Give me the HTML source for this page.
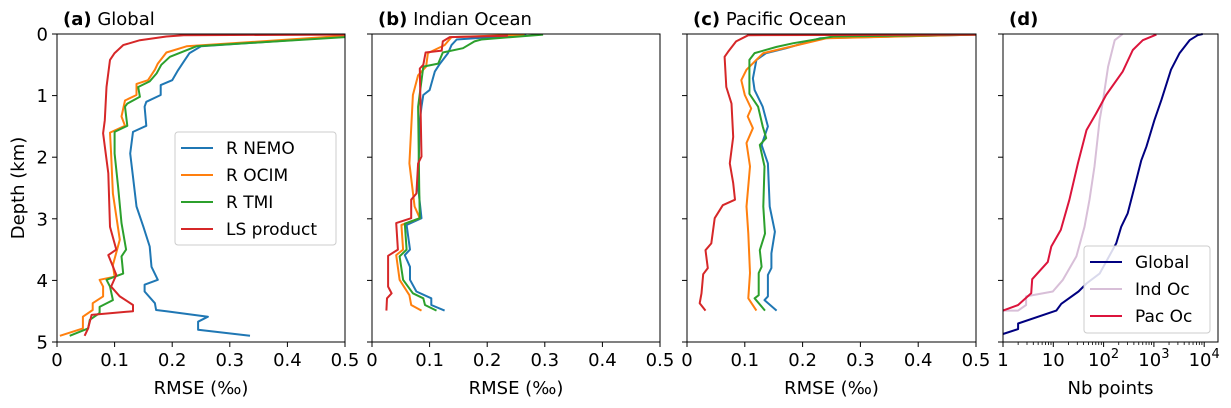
<!DOCTYPE html>
<html><head><meta charset="utf-8"><style>
body{margin:0;background:#fff;}
svg{display:block;font-family:"DejaVu Sans","Liberation Sans",sans-serif;}
</style></head><body>
<svg id="fig" width="1231" height="408" viewBox="0 0 1231 408" xmlns="http://www.w3.org/2000/svg"></svg>
<script>
// ---- Data (depth km, value) ----
const aNemoD=[0.04,0.2,0.31,0.45,0.59,0.75,0.83,0.99,1.1,1.18,1.49,1.59,1.94,2.32,2.8,3.13,3.45,3.78,3.99,4.07,4.18,4.37,4.48,4.5,4.59,4.67,4.8,4.9];
const aNemoV=[0.5,0.25,0.23,0.22,0.21,0.2,0.18,0.18,0.155,0.152,0.155,0.132,0.127,0.132,0.138,0.15,0.161,0.164,0.175,0.152,0.152,0.17,0.172,0.19,0.262,0.245,0.245,0.335];
const aOcimD=[0.03,0.2,0.3,0.48,0.58,0.75,0.81,0.99,1.08,1.34,1.49,1.6,1.94,2.59,3.34,3.75,3.94,3.99,4.1,4.26,4.37,4.48,4.59,4.78,4.9];
const aOcimV=[0.5,0.225,0.19,0.175,0.17,0.158,0.138,0.138,0.118,0.112,0.118,0.092,0.094,0.097,0.109,0.097,0.1,0.074,0.08,0.08,0.062,0.062,0.045,0.045,0.005];
const aTmiD=[0.05,0.2,0.37,0.5,0.64,0.77,0.86,1.02,1.13,1.18,1.49,1.59,1.94,2.48,3.07,3.5,3.61,3.89,3.99,4.1,4.32,4.43,4.53,4.64,4.78,4.9];
const aTmiV=[0.5,0.242,0.196,0.181,0.173,0.161,0.141,0.144,0.122,0.118,0.122,0.1,0.1,0.106,0.112,0.12,0.112,0.115,0.086,0.092,0.097,0.074,0.074,0.057,0.054,0.022];
const aLsD=[0.01,0.02,0.04,0.1,0.18,0.31,0.42,0.86,1.4,1.61,2.26,3.13,3.5,3.59,3.91,4.1,4.26,4.4,4.5,4.56,4.78,4.9];
const aLsV=[0.5,0.22,0.19,0.144,0.115,0.1,0.092,0.086,0.083,0.08,0.089,0.092,0.103,0.089,0.103,0.094,0.109,0.132,0.132,0.06,0.054,0.048];

const bNemoD=[0.01,0.09,0.18,0.31,0.48,0.61,0.91,0.99,1.18,1.4,2.48,2.99,3.1,3.5,3.59,3.78,3.99,4.18,4.29,4.4,4.49];
const bNemoV=[0.268,0.147,0.138,0.132,0.118,0.109,0.1,0.089,0.086,0.083,0.08,0.086,0.06,0.066,0.057,0.066,0.066,0.077,0.103,0.103,0.126];
const bOcimD=[0.01,0.05,0.18,0.31,0.53,0.67,0.99,2.1,2.8,2.99,3.1,3.5,3.59,3.99,4.24,4.4,4.49];
const bOcimV=[0.265,0.138,0.126,0.097,0.094,0.08,0.071,0.065,0.074,0.083,0.051,0.054,0.042,0.048,0.065,0.068,0.086];
const bTmiD=[0.01,0.09,0.12,0.23,0.3,0.48,0.53,1.18,2.48,2.99,3.08,3.5,3.61,3.99,4.21,4.29,4.4,4.49];
const bTmiV=[0.297,0.19,0.178,0.158,0.123,0.115,0.089,0.08,0.082,0.083,0.057,0.06,0.048,0.054,0.071,0.089,0.092,0.112];
const bLsD=[0.03,0.05,0.12,0.27,0.3,0.5,0.56,1.99,2.1,2.59,2.69,2.99,3.07,3.5,3.6,4.1,4.21,4.29,4.49];
const bLsV=[0.236,0.135,0.123,0.121,0.093,0.089,0.083,0.086,0.08,0.077,0.068,0.068,0.042,0.045,0.028,0.028,0.034,0.026,0.025];

const cNemoD=[0.01,0.07,0.23,0.31,0.42,0.72,0.91,1.18,1.5,1.8,2.1,2.8,3.21,3.56,3.8,3.91,4.26,4.32,4.49];
const cNemoV=[0.5,0.23,0.172,0.137,0.12,0.114,0.117,0.131,0.14,0.129,0.14,0.143,0.152,0.146,0.146,0.14,0.14,0.134,0.155];
const cOcimD=[0.01,0.07,0.21,0.31,0.58,0.75,0.99,1.21,1.34,1.53,1.77,2.15,2.8,3.24,3.88,4.29,4.49];
const cOcimV=[0.5,0.241,0.178,0.132,0.103,0.094,0.1,0.111,0.105,0.114,0.103,0.109,0.103,0.106,0.109,0.106,0.12];
const cTmiD=[0.01,0.04,0.15,0.21,0.31,0.42,0.97,1.18,1.5,1.69,1.8,2.15,2.8,3.24,3.51,3.78,3.88,4.24,4.29,4.49];
const cTmiV=[0.5,0.253,0.184,0.155,0.117,0.108,0.108,0.123,0.131,0.137,0.126,0.134,0.132,0.135,0.126,0.129,0.124,0.124,0.117,0.135];
const cLsD=[0.01,0.02,0.12,0.29,0.37,0.86,1.13,1.67,2.1,2.42,2.69,2.78,2.99,3.4,3.51,3.8,3.9,4.21,4.37,4.49];
const cLsV=[0.5,0.106,0.085,0.071,0.065,0.068,0.077,0.08,0.074,0.08,0.083,0.062,0.048,0.042,0.032,0.036,0.028,0.025,0.022,0.032];

// panel d: log10(Nb points)
const dGlobD=[4.87,4.79,4.7,4.49,4.38,4.18,4.05,3.89,3.4,3.13,2.91,2.37,2.05,1.83,1.4,1.07,0.58,0.31,0.1,0.02,0];
const dGlobL=[0,0.3,0.3,1.06,1.16,1.5,1.66,1.92,2.25,2.35,2.48,2.65,2.75,2.85,3.01,3.15,3.34,3.51,3.71,3.87,3.97];
const dIndD=[4.49,4.49,4.4,4.26,4.18,3.99,3.61,3.13,2.69,2.15,1.4,1.07,0.53,0.1,0];
const dIndL=[0,0.3,0.46,0.46,0.99,1.19,1.46,1.62,1.72,1.82,1.92,1.99,2.09,2.22,2.38];
const dPacD=[4.49,4.4,4.21,3.98,3.7,3.45,3.18,2.69,2.1,1.56,1.29,0.99,0.61,0.26,0.1,0.01];
const dPacL=[0,0.3,0.56,0.58,0.89,0.96,1.15,1.32,1.49,1.66,1.85,2.05,2.38,2.58,2.78,3.05];

const rmseTicks=["0","0.1","0.2","0.3","0.4","0.5"];
const depthTicks=["0","1","2","3","4","5"];

const NS="http://www.w3.org/2000/svg";
const svg=document.getElementById('fig');
function el(tag,attrs,parent){const e=document.createElementNS(NS,tag);for(const k in attrs)e.setAttribute(k,attrs[k]);(parent||svg).appendChild(e);return e;}
const TOP=34,BOT=342;
const FT=18;
const yS=d=>TOP+d*(BOT-TOP)/5;
const C={nemo:"#1f77b4",ocim:"#ff7f0e",tmi:"#2ca02c",ls:"#d62728",glob:"#000080",ind:"#d8bfd8",pac:"#dc143c"};

function panel(id,x0,x1,letter,title,xs,series,xticksFn,xlabel,showY){
  const g=el('g',{});
  
  
  series.forEach(s=>{
    const pts=s.d.map((d,i)=>xs(s.v[i]).toFixed(1)+','+yS(d).toFixed(1)).join(' ');
    const p=el('polyline',{points:pts,fill:'none',stroke:s.c,'stroke-width':2,'stroke-linejoin':'round'},g);
    
    
  });
  const fr=el('rect',{x:x0,y:TOP,width:x1-x0,height:BOT-TOP,fill:'none',stroke:'#000','stroke-width':1},g);
  
  
  depthTicks.forEach((t,i)=>{
    el('line',{x1:x0-5,x2:x0,y1:yS(i),y2:yS(i),stroke:'#000'},g);
    if(showY){const tx=el('text',{x:x0-9,y:yS(i)+6.5,'font-size':FT,'text-anchor':'end'},g);tx.textContent=t;
      
      }
  });
  xticksFn(g);
  const xl=el('text',{x:(x0+x1)/2,y:394,'font-size':FT,'text-anchor':'middle'},g);xl.textContent=xlabel;
  
  
  const tt=el('text',{x:x0+6,y:25,'font-size':FT},g);
  const b=el('tspan',{'font-weight':'bold'},tt);b.textContent='('+letter+')';
  const r=el('tspan',{},tt);r.textContent=' '+title;
  
  
  return g;
}
function rmsePanel(id,x0,x1,letter,title,N,O,T,L,showY){
  const xs=v=>x0+v*(x1-x0)/0.5;
  return panel(id,x0,x1,letter,title,xs,[
    {n:'r-nemo',c:C.nemo,d:N[0],v:N[1]},{n:'r-ocim',c:C.ocim,d:O[0],v:O[1]},
    {n:'r-tmi',c:C.tmi,d:T[0],v:T[1]},{n:'ls-product',c:C.ls,d:L[0],v:L[1]}],
    g=>{rmseTicks.forEach((t,i)=>{const x=xs(i*0.1);el('line',{x1:x,x2:x,y1:BOT,y2:BOT+5,stroke:'#000'},g);
      const tx=el('text',{x:x,y:BOT+24,'font-size':FT,'text-anchor':'middle'},g);tx.textContent=t;
      
      });},
    'RMSE (‰)',showY);
}
rmsePanel('a',57,345,'a','Global',[aNemoD,aNemoV],[aOcimD,aOcimV],[aTmiD,aTmiV],[aLsD,aLsV],true);
rmsePanel('b',372,660,'b','Indian Ocean',[bNemoD,bNemoV],[bOcimD,bOcimV],[bTmiD,bTmiV],[bLsD,bLsV],false);
rmsePanel('c',687,976,'c','Pacific Ocean',[cNemoD,cNemoV],[cOcimD,cOcimV],[cTmiD,cTmiV],[cLsD,cLsV],false);

const dx0=1003,dec=50.3;
const xl=l=>dx0+l*dec;
panel('d',1003,1218,'d','',xl,[
  {n:'global',c:C.glob,d:dGlobD,v:dGlobL},{n:'ind-oc',c:C.ind,d:dIndD,v:dIndL},{n:'pac-oc',c:C.pac,d:dPacD,v:dPacL}],
  g=>{for(let k=0;k<=4;k++){const x=xl(k);el('line',{x1:x,x2:x,y1:BOT,y2:BOT+5,stroke:'#000'},g);
      const tx=el('text',{x:x,y:BOT+24,'font-size':FT,'text-anchor':'middle'},g);
      if(k===0)tx.textContent='1';else if(k===1)tx.textContent='10';else{tx.textContent='10';const s=el('tspan',{dy:-8,'font-size':13},tx);s.textContent=String(k);}
      
      
      for(let m=2;m<10;m++){const mx=xl(k+Math.log10(m));if(mx<1218)el('line',{x1:mx,x2:mx,y1:BOT,y2:BOT+3,stroke:'#000','stroke-width':0.8},g);}
    }},'Nb points',false);

const yt=el('text',{x:0,y:0,'font-size':FT,'text-anchor':'middle',transform:'translate(24,188) rotate(-90)'});
yt.textContent='Depth (km)';



function legend(name,x,y,w,h,items){
  const g=el('g',{});
  
  
  el('rect',{x:x,y:y,width:w,height:h,rx:3,fill:'#fff','fill-opacity':0.85,stroke:'#ccc'},g);
  items.forEach((it,i)=>{const cy=y+16+i*27;
    el('line',{x1:x+6,x2:x+38,y1:cy,y2:cy,stroke:it[1],'stroke-width':2},g);
    const t=el('text',{x:x+51,y:cy+6,'font-size':17},g);t.textContent=it[0];
    
    });
}
legend('legend-rmse',175,132,161,113,[['R NEMO',C.nemo],['R OCIM',C.ocim],['R TMI',C.tmi],['LS product',C.ls]]);
legend('legend-points',1084,246,126,87,[['Global',C.glob],['Ind Oc',C.ind],['Pac Oc',C.pac]]);
</script>
</body></html>
